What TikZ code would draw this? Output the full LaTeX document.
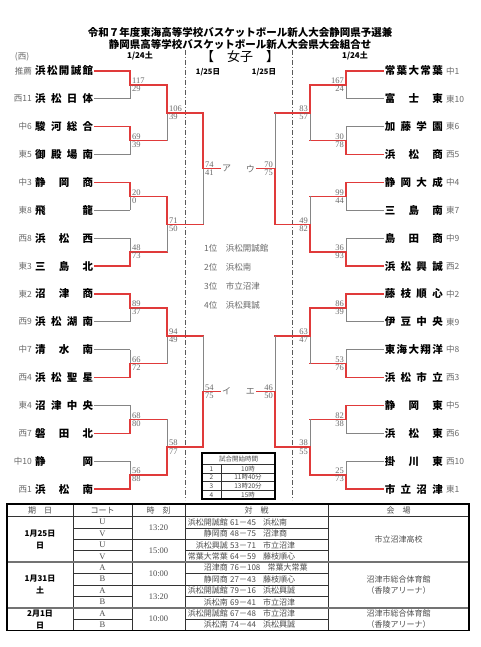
\documentclass[tikz,border=0pt]{standalone}
\usepackage{fontspec}
\setmainfont{Liberation Serif}
\newfontfamily\jp{Noto Sans CJK JP}
\usetikzlibrary{positioning}
\definecolor{winred}{HTML}{E03A3A}
\definecolor{losegray}{HTML}{858585}
\definecolor{softgray}{HTML}{6A6A6A}

% team names are spread over the whole name column
\def\spreadA#1{\ifx\relax#1\else#1\expandafter\spreadB\fi}
\def\spreadB#1{\ifx\relax#1\else\hfill#1\expandafter\spreadB\fi}
\newcommand\tname[1]{\makebox[58pt][s]{\expandafter\spreadA#1\relax}}

% one game: x of the joint line, rows of both sides, x of the next round,
% the two scores, winner (1 upper, 2 lower), side (l or r)
\newcount\boutno
\newcommand\bout[8]{%
  \global\advance\boutno by 1
  \pgfmathsetmacro\ya{71+27.87*(#2-1)}%
  \pgfmathsetmacro\yb{71+27.87*(#3-1)}%
  \pgfmathsetmacro\ym{(\ya+\yb)/2}%
  \ifnum#7=1 \let\yw\ya\else\let\yw\yb\fi
  \draw[lose] (#1,\ya) -- (#1,\yb);
  \draw[win] (#1,\yw) -- (#1,\ym) -- (#4,\ym);
  \node[#8top] (sc\the\boutno a) at (#1,\ym) {#5};
  \node[#8bot] (sc\the\boutno b) at (#1,\ym) {#6};
}

\begin{document}
\begin{tikzpicture}[x=1pt, y=-1pt,
  every node/.style={inner sep=1pt},
  win/.style={draw=winred, line width=1.5pt, line cap=rect},
  lose/.style={draw=losegray, line width=0.9pt},
  team/.style={font=\jp\bfseries\fontsize{10.5}{12}\selectfont},
  seed/.style={font=\jp\fontsize{8.5}{10}\selectfont, text=softgray},
  score/.style={font=\fontsize{8.5}{9}\selectfont, text=softgray},
  ltop/.style={score, anchor=south west, xshift=1pt},
  lbot/.style={score, anchor=north west, xshift=1pt},
  rtop/.style={score, anchor=south east, xshift=-1pt},
  rbot/.style={score, anchor=north east, xshift=-1pt},
  kana/.style={font=\jp\fontsize{9}{10}\selectfont, text=softgray},
  note/.style={font=\jp\fontsize{8.5}{10}\selectfont, text=softgray},
  cell/.style={font=\jp\fontsize{8}{9}\selectfont, text=black!70},
  romancell/.style={font=\fontsize{8.5}{9}\selectfont, text=black!70},
  datecell/.style={font=\jp\bfseries\fontsize{8}{12}\selectfont, align=center},
  smallcell/.style={font=\jp\fontsize{6.5}{7}\selectfont, text=black!70},
  tblline/.style={draw=black!80, line width=0.6pt},
  tblframe/.style={draw=black, line width=1.3pt},
  tblsep/.style={draw=black!55, line width=2pt},
  splitline/.style={draw=black!65, line width=0.7pt, dash pattern=on 5pt off 2pt on 1pt off 2pt}]

\fill[white] (0,0) rectangle (480,647);
\useasboundingbox (0,0) rectangle (480,647);

% heading
\node[font=\jp\bfseries\fontsize{10.5}{12}\selectfont] (title1) at (240,33) {令和７年度東海高等学校バスケットボール新人大会静岡県予選兼};
\node[font=\jp\bfseries\fontsize{10.5}{12}\selectfont] (title2) at (240,44.5) {静岡県高等学校バスケットボール新人大会県大会組合せ};
\node[seed] (westmark) at (22,57) {(西)};
\node[font=\jp\bfseries\fontsize{8}{9}\selectfont] (dayL) at (140,56) {1/24土};
\node[font=\jp\bfseries\fontsize{8}{9}\selectfont] (dayR) at (355,56) {1/24土};
\node[font=\jp\fontsize{13}{14}\selectfont] (girls) at (240,57) {【　女子　】};
\node[font=\jp\bfseries\fontsize{7.5}{8}\selectfont] (semiL) at (208,72) {1/25日};
\node[font=\jp\bfseries\fontsize{7.5}{8}\selectfont] (semiR) at (264,72) {1/25日};

\draw[splitline] (185,50) -- (185,500);
\draw[splitline] (292,50) -- (292,500);

% left side teams
\foreach \sd/\nm/\wn [count=\i] in {推薦/浜松開誠館/1, 西11/浜松日体/0, 中6/駿河総合/1, 東5/御殿場南/0,
    中3/静岡商/1, 東8/飛龍/0, 西8/浜松西/0, 東3/三島北/1, 東2/沼津商/1, 西9/浜松湖南/0,
    中7/清水南/0, 西4/浜松聖星/1, 東4/沼津中央/0, 西7/磐田北/1, 中10/静岡/0, 西1/浜松南/1}{
  \pgfmathsetmacro\yt{71+27.87*(\i-1)}
  \node[team, anchor=west] (L\i) at (34,\yt) {\tname{\nm}};
  \node[seed, left=1pt of L\i] (LS\i) {\sd};
  \ifnum\wn=1 \def\tc{win}\else\def\tc{lose}\fi
  \draw[\tc] (L\i.east) -- (130,\yt);
}

% right side teams
\foreach \sd/\nm/\wn [count=\i] in {中1/常葉大常葉/1, 東10/富士東/0, 東6/加藤学園/0, 西5/浜松商/1,
    中4/静岡大成/1, 東7/三島南/0, 中9/島田商/0, 西2/浜松興誠/1, 中2/藤枝順心/1, 東9/伊豆中央/0,
    中8/東海大翔洋/0, 西3/浜松市立/1, 中5/静岡東/1, 西6/浜松東/0, 西10/掛川東/0, 東1/市立沼津/1}{
  \pgfmathsetmacro\yt{71+27.87*(\i-1)}
  \node[team, anchor=east] (R\i) at (444,\yt) {\tname{\nm}};
  \node[seed, right=1pt of R\i] (RS\i) {\sd};
  \ifnum\wn=1 \def\tc{win}\else\def\tc{lose}\fi
  \draw[\tc] (R\i.west) -- (346,\yt);
}

% games
\foreach \xr/\ra/\rb/\xn/\sa/\sb/\wn in {130/1/2/167/117/29/1, 130/3/4/167/69/39/1, 130/5/6/167/20/0/1,
    130/7/8/167/48/73/2, 130/9/10/167/89/37/1, 130/11/12/167/66/72/2, 130/13/14/167/68/80/2,
    130/15/16/167/56/88/2, 167/1.5/3.5/203/106/39/1, 167/5.5/7.5/203/71/50/1, 167/9.5/11.5/203/94/49/1,
    167/13.5/15.5/203/58/77/2, 203/2.5/6.5/220/74/41/1, 203/10.5/14.5/220/54/75/2}
  \bout{\xr}{\ra}{\rb}{\xn}{\sa}{\sb}{\wn}{l};
\foreach \xr/\ra/\rb/\xn/\sa/\sb/\wn in {346/1/2/310/167/24/1, 346/3/4/310/30/78/2, 346/5/6/310/99/44/1,
    346/7/8/310/36/93/2, 346/9/10/310/86/39/1, 346/11/12/310/53/76/2, 346/13/14/310/82/38/1,
    346/15/16/310/25/73/2, 310/1.5/3.5/275/83/57/1, 310/5.5/7.5/275/49/82/2, 310/9.5/11.5/275/63/47/1,
    310/13.5/15.5/275/38/55/2, 275/2.5/6.5/257/70/75/2, 275/10.5/14.5/257/46/50/2}
  \bout{\xr}{\ra}{\rb}{\xn}{\sa}{\sb}{\wn}{r};

\node[kana, anchor=west] (kA) at (221,168.6) {ア};
\node[kana, anchor=east] (kU) at (256,168.6) {ウ};
\node[kana, anchor=west] (kI) at (221,391.5) {イ};
\node[kana, anchor=east] (kE) at (256,391.5) {エ};

% final standing
\foreach \nm [count=\k] in {浜松開誠館, 浜松南, 市立沼津, 浜松興誠}
  \node[note, anchor=west] (rank\k) at (203,{248+19*(\k-1)}) {\k 位　\nm};

% start times
\draw[tblline] (202,464.5) -- (275,464.5);
\draw[tblline] (221,464.5) -- (221,499);
\foreach \k in {1,2,3}
  \draw[tblline] (202,{464.5+8.625*\k}) -- (275,{464.5+8.625*\k});
\draw[tblframe] (202,453) rectangle (275,499);
\node[smallcell] (start0) at (238.5,458.8) {試合開始時間};
\foreach \t [count=\k] in {10時, 11時40分, 13時20分, 15時}{
  \node[smallcell] (no\k) at (211.5,{464.5+8.625*(\k-0.5)}) {\k};
  \node[smallcell] (start\k) at (248,{464.5+8.625*(\k-0.5)}) {\t};
}

% schedule
\draw[tblline] (7,516.5) -- (469,516.5);
\foreach \x in {73,132,185,328}
  \draw[tblline] (\x,504) -- (\x,630.5);
\foreach \k in {1,3,5,7,9}{
  \draw[tblline] (73,{516.5+11.4*\k}) -- (132,{516.5+11.4*\k});
  \draw[tblline] (185,{516.5+11.4*\k}) -- (328,{516.5+11.4*\k});
}
\foreach \k in {2,6}
  \draw[tblline] (73,{516.5+11.4*\k}) -- (328,{516.5+11.4*\k});
\foreach \k in {4,8}
  \draw[tblsep] (7,{516.5+11.4*\k}) -- (469,{516.5+11.4*\k});
\draw[tblframe] (7,504) rectangle (469,630.5);

\node[cell] (h1) at (40,510.3) {期　日};
\node[cell] (h2) at (102.5,510.3) {コート};
\node[cell] (h3) at (158.5,510.3) {時　刻};
\node[cell] (h4) at (256.5,510.3) {対　戦};
\node[cell] (h5) at (398.5,510.3) {会　場};

\node[datecell] (d1) at (40,539.3) {1月25日\\日};
\node[datecell] (d2) at (40,584.9) {1月31日\\土};
\node[datecell] (d3) at (40,619.1) {2月1日\\日};

\foreach \t [count=\m] in {13:20, 15:00, 10:00, 13:20, 10:00}
  \node[romancell] (tm\m) at (158.5,{516.5+11.4*(2*\m-1)}) {\t};

\foreach \ct/\ta/\sc/\tb [count=\k] in {U/浜松開誠館/61－45/浜松南, V/静岡商/48－75/沼津商,
    U/浜松興誠/53－71/市立沼津, V/常葉大常葉/64－59/藤枝順心, A/沼津商/76－108/常葉大常葉,
    B/静岡商/27－43/藤枝順心, A/浜松開誠館/79－16/浜松興誠, B/浜松南/69－41/市立沼津,
    A/浜松開誠館/67－48/市立沼津, B/浜松南/74－44/浜松興誠}{
  \pgfmathsetmacro\yr{516.5+11.4*(\k-0.5)}
  \node[romancell] (ct\k) at (102.5,\yr) {\ct};
  \node[cell, anchor=east] (ma\k) at (229,\yr) {\ta};
  \node[cell, anchor=west] (mb\k) at (ma\k.east) {\sc\hspace{0.9em}\tb};
}

\node[cell] (v1) at (398.5,539.3) {市立沼津高校};
\node[cell, align=center, font=\jp\fontsize{8}{11}\selectfont] (v2) at (398.5,584.9) {沼津市総合体育館\\（香陵アリーナ）};
\node[cell, align=center, font=\jp\fontsize{8}{11}\selectfont] (v3) at (398.5,619.1) {沼津市総合体育館\\（香陵アリーナ）};
\end{tikzpicture}
\end{document}
